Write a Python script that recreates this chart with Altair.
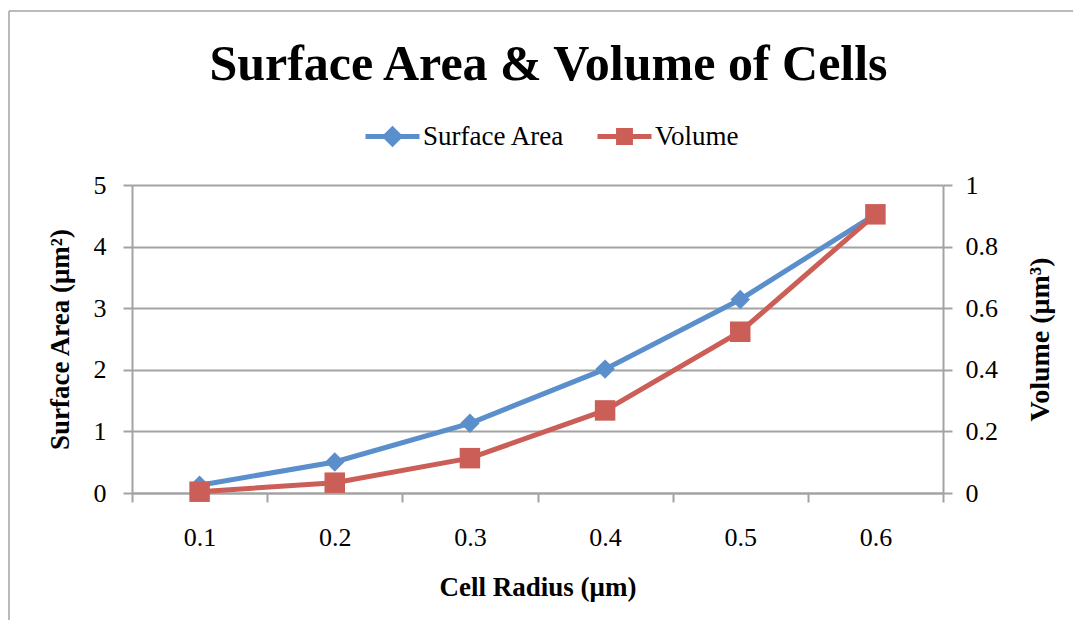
import altair as alt
import pandas as pd

# ---- data ----
radius = [0.1, 0.2, 0.3, 0.4, 0.5, 0.6]
surface_area = [0.126, 0.503, 1.131, 2.011, 3.142, 4.524]
volume = [0.0042, 0.0335, 0.1131, 0.2681, 0.5236, 0.9048]
series_names = ["Surface Area", "Volume"]
series_colors = ["#5A8FCB", "#CC5E58"]
x_tick_bounds = [0.05, 0.15, 0.25, 0.35, 0.45, 0.55, 0.65]
sa_ticks = [0, 1, 2, 3, 4, 5]
vol_ticks = [0, 0.2, 0.4, 0.6, 0.8, 1.0]

df = pd.DataFrame({"radius": radius, "sa": surface_area, "vol": volume})

FONT = "Liberation Serif"
GRAY = "#A3A3A3"

is_bound = "round(datum.value * 20) % 2 == 1"
x_enc = alt.X(
    "radius:Q",
    scale=alt.Scale(domain=[0.05, 0.65], nice=False, zero=False),
    axis=alt.Axis(
        values=sorted(x_tick_bounds + radius),
        labelExpr=f"{is_bound} ? '' : format(datum.value, '.1f')",
        tickOpacity={"condition": {"test": is_bound, "value": 1}, "value": 0},
        orient="bottom",
        grid=False,
        domainColor=GRAY, domainWidth=2,
        tickColor=GRAY, tickWidth=2, tickSize=9,
        labelFont=FONT, labelFontSize=26, labelColor="black",
        labelPadding=22, labelOverlap=False, labelFlush=False,
        title="Cell Radius (μm)",
        titleFont=FONT, titleFontSize=27, titleFontWeight="bold",
        titleColor="black", titlePadding=24,
    ),
)

def legend_for(color, path, x):
    return alt.Legend(
        orient="none", legendX=x, legendY=-78, title=None, padding=0,
        symbolType=path, symbolSize=2916, symbolStrokeWidth=5,
        symbolFillColor=color, symbolStrokeColor=color,
        labelFont=FONT, labelFontSize=27, labelColor="black", labelOffset=1,
    )

sa_chart = alt.Chart(df).transform_calculate(
    series=f"'{series_names[0]}'"
).mark_line(
    strokeWidth=5,
    point=alt.OverlayMarkDef(shape="diamond", size=380, filled=True, opacity=1),
).encode(
    x=x_enc,
    y=alt.Y(
        "sa:Q",
        scale=alt.Scale(domain=[0, 5], nice=False),
        axis=alt.Axis(
            values=sa_ticks, orient="left",
            grid=True, gridColor=GRAY, gridWidth=2,
            domainColor=GRAY, domainWidth=2,
            tickColor=GRAY, tickWidth=2, tickSize=9,
            labelFont=FONT, labelFontSize=26, labelColor="black", labelPadding=17,
            title="Surface Area (μm²)",
            titleFont=FONT, titleFontSize=27, titleFontWeight="bold",
            titleColor="black", titlePadding=19,
        ),
    ),
    color=alt.Color(
        "series:N",
        scale=alt.Scale(domain=[series_names[0]], range=[series_colors[0]]),
        legend=legend_for(series_colors[0],
                          "M-1,0H1M0,-0.27L0.27,0L0,0.27L-0.27,0Z", 231),
    ),
)

vol_chart = alt.Chart(df).transform_calculate(
    series=f"'{series_names[1]}'"
).mark_line(
    strokeWidth=5,
    point=alt.OverlayMarkDef(shape="square", size=420, filled=True, opacity=1),
).encode(
    x=x_enc,
    y=alt.Y(
        "vol:Q",
        scale=alt.Scale(domain=[0, 1], nice=False),
        axis=alt.Axis(
            values=vol_ticks, orient="right", format="~g",
            grid=False,
            domainColor=GRAY, domainWidth=2,
            tickColor=GRAY, tickWidth=2, tickSize=9,
            labelFont=FONT, labelFontSize=26, labelColor="black", labelPadding=13,
            title="Volume (μm³)", titleAngle=270,
            titleFont=FONT, titleFontSize=28, titleFontWeight="bold",
            titleColor="black", titlePadding=57,
        ),
    ),
    color=alt.Color(
        "series:N",
        scale=alt.Scale(domain=[series_names[1]], range=[series_colors[1]]),
        legend=legend_for(series_colors[1],
                          "M-1,0H1M-0.22,-0.22H0.22V0.22H-0.22Z", 463),
    ),
)

# outer chart frame (top and left edges only are visible in the reference)
frame_top = alt.Chart(alt.Data(values=[{}])).mark_rule(
    stroke=GRAY, strokeWidth=1.5
).encode(x=alt.value(-123), x2=alt.value(1100), y=alt.value(-174))
frame_left = alt.Chart(alt.Data(values=[{}])).mark_rule(
    stroke=GRAY, strokeWidth=1.5
).encode(x=alt.value(-123), y=alt.value(-174), y2=alt.value(700))

chart = alt.layer(frame_top, frame_left, sa_chart, vol_chart).resolve_scale(
    y="independent", color="independent"
).properties(
    width=811, height=308,
    title=alt.TitleParams(
        "Surface Area & Volume of Cells",
        font=FONT, fontSize=50, fontWeight="bold", color="black",
        anchor="middle", dx=11, baseline="alphabetic", offset=-120,
    ),
    padding={"left": 124, "top": 177, "right": 130, "bottom": 127},
    autosize=alt.AutoSizeParams(type="none"),
).configure_view(stroke=None)

chart.save("out.html", embed_options={"renderer": "svg", "actions": False})
